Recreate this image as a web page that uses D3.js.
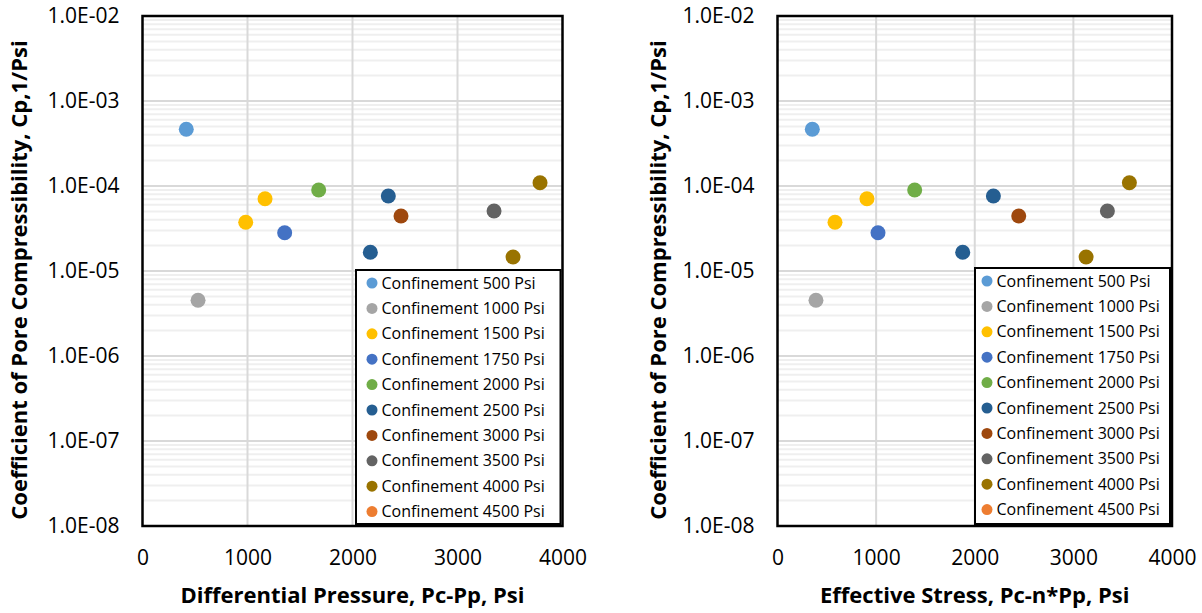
<!DOCTYPE html>
<html>
<head>
<meta charset="utf-8">
<script src="https://cdn.jsdelivr.net/npm/d3@7"></script>
<style>
  body { margin: 0; background: #fff; }
  svg { display: block; font-family: "Open Sans", sans-serif; }
</style>
</head>
<body>
<svg id="chart" width="1202" height="613"></svg>
<script>
// series (legend order)
var seriesNames = ["Confinement 500 Psi", "Confinement 1000 Psi", "Confinement 1500 Psi", "Confinement 1750 Psi",
  "Confinement 2000 Psi", "Confinement 2500 Psi", "Confinement 3000 Psi", "Confinement 3500 Psi",
  "Confinement 4000 Psi", "Confinement 4500 Psi"];
var seriesColors = ["#5B9BD5", "#A5A5A5", "#FFC000", "#4472C4", "#70AD47", "#255E91", "#9E480E", "#636363", "#997300", "#ED7D31"];

// x values, one list per series
var diffPressure = [[417], [529], [983, 1167], [1354], [1678], [2170, 2341], [2462], [3348], [3529, 3786], []];
var effStress    = [[353], [390], [583, 907], [1019], [1391], [1878, 2189], [2446], [3345], [3129, 3568], []];
// pore compressibility, 1/psi (same for both charts)
var poreComp = [[4.65e-4], [4.52e-6], [3.74e-5, 7.09e-5], [2.82e-5], [8.97e-5], [1.66e-5, 7.63e-5],
  [4.44e-5], [5.08e-5], [1.46e-5, 1.094e-4], []];

var xTicks = [0, 1000, 2000, 3000, 4000];
var yTicks = [1e-8, 1e-7, 1e-6, 1e-5, 1e-4, 1e-3, 1e-2];

var svg = d3.select("#chart");

function sciFmt(d) {
  var e = Math.round(Math.log10(d));
  return "1.0E" + (e < 0 ? "-" : "+") + String(Math.abs(e)).padStart(2, "0");
}

function drawPanel(cfg) {
  var g = svg.append("g");
  var x = d3.scaleLinear().domain([0, 4000]).range([cfg.left, cfg.right]);
  var y = d3.scaleLog().domain([1e-8, 1e-2]).range([526, 16]);

  // minor horizontal grid
  var minor = [];
  yTicks.slice(0, -1).forEach(function(t) {
    for (var k = 2; k <= 9; k++) minor.push(t * k);
  });
  g.selectAll("line.minor").data(minor).enter().append("line")
    .attr("x1", cfg.left).attr("x2", cfg.right)
    .attr("y1", function(d) { return y(d); }).attr("y2", function(d) { return y(d); })
    .attr("stroke", "#efefef").attr("stroke-width", 2);
  // major grid
  g.selectAll("line.hmaj").data(yTicks).enter().append("line")
    .attr("x1", cfg.left).attr("x2", cfg.right)
    .attr("y1", function(d) { return y(d); }).attr("y2", function(d) { return y(d); })
    .attr("stroke", "#d9d9d9").attr("stroke-width", 2);
  g.selectAll("line.vmaj").data(xTicks.slice(1, -1)).enter().append("line")
    .attr("x1", function(d) { return x(d); }).attr("x2", function(d) { return x(d); })
    .attr("y1", 16).attr("y2", 526)
    .attr("stroke", "#d9d9d9").attr("stroke-width", 2);

  // axes
  var xAxis = g.append("g").attr("transform", "translate(0,526)")
    .call(d3.axisBottom(x).tickValues(xTicks).tickSize(0).tickPadding(24).tickFormat(d3.format("d")));
  var yAxis = g.append("g").attr("transform", "translate(" + cfg.left + ",0)")
    .call(d3.axisLeft(y).tickValues(yTicks).tickSize(0).tickPadding(23).tickFormat(sciFmt));
  [xAxis, yAxis].forEach(function(a) {
    a.select(".domain").remove();
    a.selectAll("text").attr("font-size", 21).attr("fill", "#000").attr("font-family", "Open Sans");
  });

  // points
  seriesNames.forEach(function(name, i) {
    var pts = cfg.xs[i].map(function(v, j) { return [v, poreComp[i][j]]; });
    g.selectAll("circle.s" + i).data(pts).enter().append("circle")
      .attr("cx", function(d) { return x(d[0]); })
      .attr("cy", function(d) { return y(d[1]); })
      .attr("r", 7.5)
      .attr("fill", seriesColors[i]);
  });

  // frame
  g.append("rect").attr("x", cfg.left).attr("y", 16)
    .attr("width", cfg.right - cfg.left).attr("height", 510)
    .attr("fill", "none").attr("stroke", "#000").attr("stroke-width", 2.5);

  // legend
  var lg = g.append("g");
  lg.append("rect").attr("x", cfg.legX).attr("y", cfg.legY)
    .attr("width", cfg.right - 2 - cfg.legX).attr("height", 524 - cfg.legY)
    .attr("fill", "#fff").attr("stroke", "#000").attr("stroke-width", 2);
  var items = lg.selectAll("g.item").data(seriesNames).enter().append("g")
    .attr("transform", function(d, i) { return "translate(" + cfg.legX + "," + (cfg.legY + 13 + i * 25.4) + ")"; });
  items.append("circle").attr("cx", cfg.mOff).attr("cy", 0).attr("r", 5.5)
    .attr("fill", function(d, i) { return seriesColors[i]; });
  items.append("text").attr("x", cfg.mOff + 9.5).attr("y", 0).attr("dy", "0.35em")
    .attr("font-size", 16).attr("fill", "#000").text(function(d) { return d; });

  // titles
  g.append("text").attr("x", (cfg.left + cfg.right) / 2).attr("y", 603)
    .attr("text-anchor", "middle").attr("font-size", 22).attr("font-weight", "bold")
    .text(cfg.xTitle);
  g.append("text").attr("transform", "translate(" + (cfg.yTitleX) + ",280) rotate(-90)")
    .attr("text-anchor", "middle").attr("dy", "0.35em").attr("font-size", 22).attr("font-weight", "bold")
    .text("Coefficient of Pore Compressibility, Cp,1/Psi");
}

drawPanel({left: 142.5, right: 562.5, xs: diffPressure, legX: 356, legY: 270, mOff: 16,
  xTitle: "Differential Pressure, Pc-Pp, Psi", yTitleX: 19.5});
drawPanel({left: 777.5, right: 1172, xs: effStress, legX: 975, legY: 268, mOff: 12,
  xTitle: "Effective Stress, Pc-n*Pp, Psi", yTitleX: 658});
</script>
</body>
</html>
